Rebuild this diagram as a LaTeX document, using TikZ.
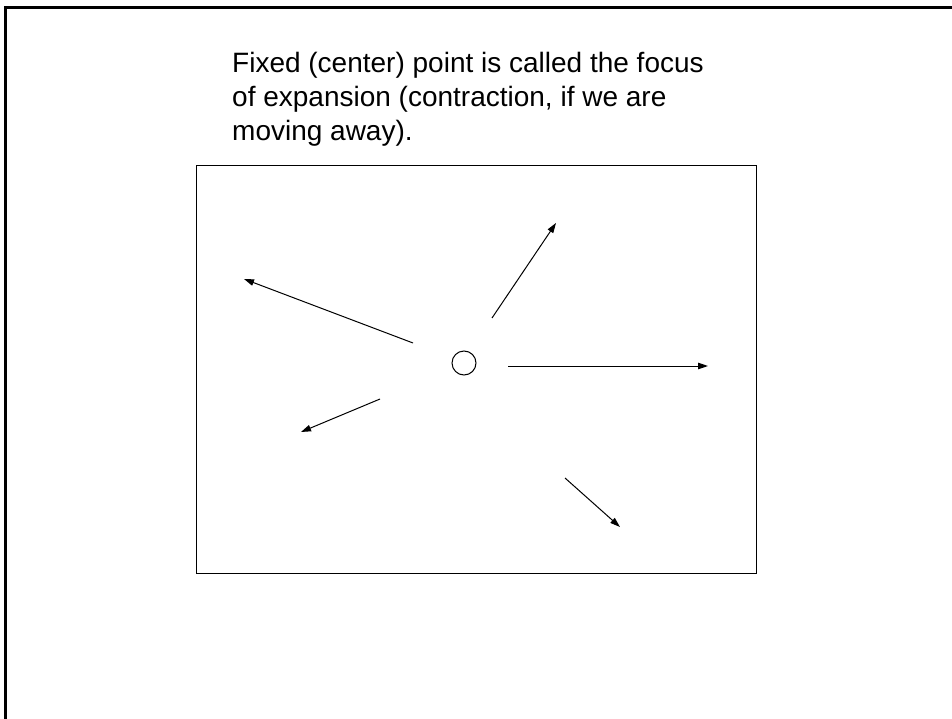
\documentclass[tikz,border=0pt]{standalone}
\usepackage{fontspec}
\setmainfont{Liberation Sans}
\usetikzlibrary{arrows.meta,positioning}

\begin{document}
\begin{tikzpicture}[x=1pt,y=-1pt,>={Triangle[length=10pt,width=6.5pt]},
  flow/.style={->,line width=1pt},
  focus/.style={draw,circle,line width=1pt,minimum size=24pt,inner sep=0pt}]
  \useasboundingbox (0,0) rectangle (952,719);
  % slide frame (only top and left edges are visible)
  \draw[line width=2.5pt] (5.5,719) -- (5.5,7.5) -- (952,7.5);
  \node[anchor=base west,inner sep=0pt,align=left,font=\fontsize{28}{34}\selectfont] (caption) at (232,141)
    {Fixed (center) point is called the focus\\of expansion (contraction, if we are\\moving away).};
  \node[draw,line width=1pt,minimum width=560pt,minimum height=407pt,inner sep=0pt] (frame) at (476,369.5) {};
  \node[focus] (foe) at (464,363) {};
  % flow vectors
  \coordinate (s1) at (413,343); \coordinate (e1) at (244,279);
  \coordinate (s2) at (492,318); \coordinate (e2) at (556,223);
  \coordinate (s3) at (508,366); \coordinate (e3) at (708,366);
  \coordinate (s4) at (380,399); \coordinate (e4) at (301,432);
  \coordinate (s5) at (565,478); \coordinate (e5) at (620,527);
  \foreach \i in {1,...,5}
    \draw[flow] (s\i) -- (e\i);
\end{tikzpicture}
\end{document}
